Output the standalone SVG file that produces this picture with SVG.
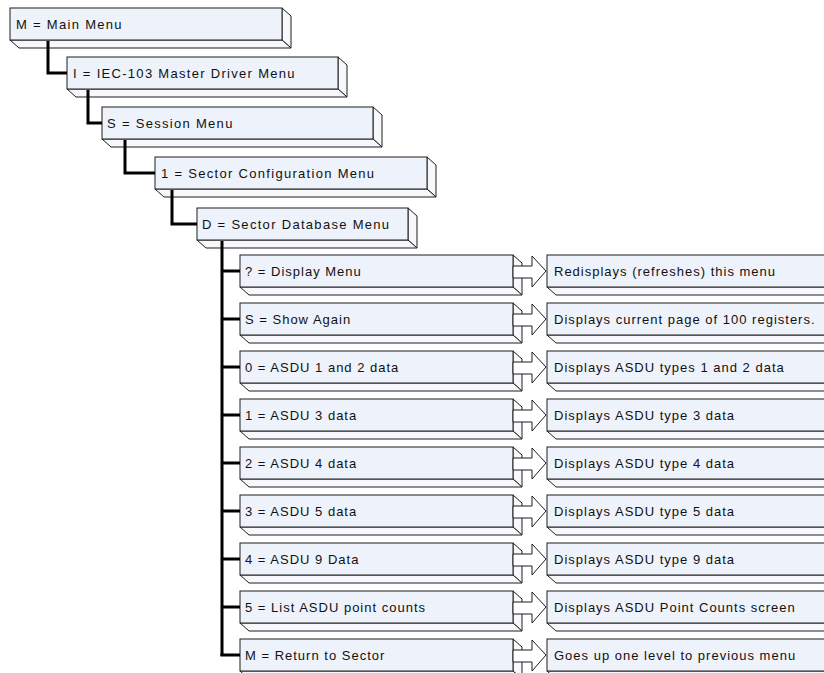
<svg xmlns="http://www.w3.org/2000/svg" width="824" height="673" viewBox="0 0 824 673">
<style>
.bg{fill:#ffffff}
.front{fill:#eef2fa;stroke:#1e1e1e;stroke-width:1}
.side{fill:#f6f8fc;stroke:#1e1e1e;stroke-width:1}
.arrow{fill:#ffffff;stroke:#1e1e1e;stroke-width:1}
.t{font-family:"Liberation Sans",Arial,sans-serif;font-size:13px;letter-spacing:1px;fill:#111}
.tt{letter-spacing:1.3px}
.conn{fill:none;stroke:#000;stroke-width:3;stroke-linejoin:miter}
</style>
<defs>
<g id="arr">
<path class="arrow" d="M0,-5 H19 V-15 L33,0 L19,16 V7 H0 Z"/>
</g>
</defs>
<rect class="bg" x="0" y="0" width="824" height="673"/>

<g id="n-main">
<path class="side" d="M282,8 L291,16 L291,48 L282,40 Z"/>
<path class="side" d="M10,40 L282,40 L291,48 L19,48 Z"/>
<rect class="front" x="10" y="8" width="272" height="32"/>
<text class="t tt" x="16" y="29">M = Main Menu</text>
</g>
<g id="n-iec">
<path class="side" d="M338,57 L347,65 L347,97 L338,89 Z"/>
<path class="side" d="M67,89 L338,89 L347,97 L76,97 Z"/>
<rect class="front" x="67" y="57" width="271" height="32"/>
<text class="t tt" x="73" y="78">I = IEC-103 Master Driver Menu</text>
</g>
<g id="n-session">
<path class="side" d="M373,107 L382,115 L382,147 L373,139 Z"/>
<path class="side" d="M102,139 L373,139 L382,147 L111,147 Z"/>
<rect class="front" x="102" y="107" width="271" height="32"/>
<text class="t tt" x="107" y="128">S = Session Menu</text>
</g>
<g id="n-sector">
<path class="side" d="M427,157 L436,165 L436,197 L427,189 Z"/>
<path class="side" d="M155,189 L427,189 L436,197 L164,197 Z"/>
<rect class="front" x="155" y="157" width="272" height="32"/>
<text class="t tt" x="161" y="178">1 = Sector Configuration Menu</text>
</g>
<g id="n-db">
<path class="side" d="M408,208 L417,216 L417,248 L408,240 Z"/>
<path class="side" d="M197,240 L408,240 L417,248 L206,248 Z"/>
<rect class="front" x="197" y="208" width="211" height="32"/>
<text class="t tt" x="202" y="229">D = Sector Database Menu</text>
</g>

<g id="r0" transform="translate(0,255)">
<path class="side" d="M513,0 L522,8 L522,40 L513,32 Z"/><path class="side" d="M240,32 L513,32 L522,40 L249,40 Z"/>
<rect class="front" x="240" y="0" width="273" height="32"/><text class="t" x="245" y="21">? = Display Menu</text>
<use href="#arr" x="513" y="16"/>
<path class="side" d="M547,32 L840,32 L840,40 L556,40 Z"/><rect class="front" x="547" y="0" width="290" height="32"/>
<text class="t" x="554" y="21">Redisplays (refreshes) this menu</text>
</g>
<g id="r1" transform="translate(0,303)">
<path class="side" d="M513,0 L522,8 L522,40 L513,32 Z"/><path class="side" d="M240,32 L513,32 L522,40 L249,40 Z"/>
<rect class="front" x="240" y="0" width="273" height="32"/><text class="t" x="245" y="21">S = Show Again</text>
<use href="#arr" x="513" y="16"/>
<path class="side" d="M547,32 L840,32 L840,40 L556,40 Z"/><rect class="front" x="547" y="0" width="290" height="32"/>
<text class="t" x="554" y="21">Displays current page of 100 registers.</text>
</g>
<g id="r2" transform="translate(0,351)">
<path class="side" d="M513,0 L522,8 L522,40 L513,32 Z"/><path class="side" d="M240,32 L513,32 L522,40 L249,40 Z"/>
<rect class="front" x="240" y="0" width="273" height="32"/><text class="t" x="245" y="21">0 = ASDU 1 and 2 data</text>
<use href="#arr" x="513" y="16"/>
<path class="side" d="M547,32 L840,32 L840,40 L556,40 Z"/><rect class="front" x="547" y="0" width="290" height="32"/>
<text class="t" x="554" y="21">Displays ASDU types 1 and 2 data</text>
</g>
<g id="r3" transform="translate(0,399)">
<path class="side" d="M513,0 L522,8 L522,40 L513,32 Z"/><path class="side" d="M240,32 L513,32 L522,40 L249,40 Z"/>
<rect class="front" x="240" y="0" width="273" height="32"/><text class="t" x="245" y="21">1 = ASDU 3 data</text>
<use href="#arr" x="513" y="16"/>
<path class="side" d="M547,32 L840,32 L840,40 L556,40 Z"/><rect class="front" x="547" y="0" width="290" height="32"/>
<text class="t" x="554" y="21">Displays ASDU type 3 data</text>
</g>
<g id="r4" transform="translate(0,447)">
<path class="side" d="M513,0 L522,8 L522,40 L513,32 Z"/><path class="side" d="M240,32 L513,32 L522,40 L249,40 Z"/>
<rect class="front" x="240" y="0" width="273" height="32"/><text class="t" x="245" y="21">2 = ASDU 4 data</text>
<use href="#arr" x="513" y="16"/>
<path class="side" d="M547,32 L840,32 L840,40 L556,40 Z"/><rect class="front" x="547" y="0" width="290" height="32"/>
<text class="t" x="554" y="21">Displays ASDU type 4 data</text>
</g>
<g id="r5" transform="translate(0,495)">
<path class="side" d="M513,0 L522,8 L522,40 L513,32 Z"/><path class="side" d="M240,32 L513,32 L522,40 L249,40 Z"/>
<rect class="front" x="240" y="0" width="273" height="32"/><text class="t" x="245" y="21">3 = ASDU 5 data</text>
<use href="#arr" x="513" y="16"/>
<path class="side" d="M547,32 L840,32 L840,40 L556,40 Z"/><rect class="front" x="547" y="0" width="290" height="32"/>
<text class="t" x="554" y="21">Displays ASDU type 5 data</text>
</g>
<g id="r6" transform="translate(0,543)">
<path class="side" d="M513,0 L522,8 L522,40 L513,32 Z"/><path class="side" d="M240,32 L513,32 L522,40 L249,40 Z"/>
<rect class="front" x="240" y="0" width="273" height="32"/><text class="t" x="245" y="21">4 = ASDU 9 Data</text>
<use href="#arr" x="513" y="16"/>
<path class="side" d="M547,32 L840,32 L840,40 L556,40 Z"/><rect class="front" x="547" y="0" width="290" height="32"/>
<text class="t" x="554" y="21">Displays ASDU type 9 data</text>
</g>
<g id="r7" transform="translate(0,591)">
<path class="side" d="M513,0 L522,8 L522,40 L513,32 Z"/><path class="side" d="M240,32 L513,32 L522,40 L249,40 Z"/>
<rect class="front" x="240" y="0" width="273" height="32"/><text class="t" x="245" y="21">5 = List ASDU point counts</text>
<use href="#arr" x="513" y="16"/>
<path class="side" d="M547,32 L840,32 L840,40 L556,40 Z"/><rect class="front" x="547" y="0" width="290" height="32"/>
<text class="t" x="554" y="21">Displays ASDU Point Counts screen</text>
</g>
<g id="r8" transform="translate(0,639)">
<path class="side" d="M513,0 L522,8 L522,40 L513,32 Z"/><path class="side" d="M240,32 L513,32 L522,40 L249,40 Z"/>
<rect class="front" x="240" y="0" width="273" height="32"/><text class="t" x="245" y="21">M = Return to Sector</text>
<use href="#arr" x="513" y="16"/>
<path class="side" d="M547,32 L840,32 L840,40 L556,40 Z"/><rect class="front" x="547" y="0" width="290" height="32"/>
<text class="t" x="554" y="21">Goes up one level to previous menu</text>
</g>

<g id="connectors">
<path class="conn" d="M48,41 V73 H67"/>
<path class="conn" d="M88,90 V123 H102"/>
<path class="conn" d="M125,140 V173 H155"/>
<path class="conn" d="M172,190 V224 H197"/>
<path class="conn" d="M222,241 V656"/>
<path class="conn" d="M222,271 H240 M222,319 H240 M222,367 H240 M222,415 H240 M222,463 H240 M222,511 H240 M222,559 H240 M222,607 H240 M220.5,655 H240"/>
</g>
</svg>
